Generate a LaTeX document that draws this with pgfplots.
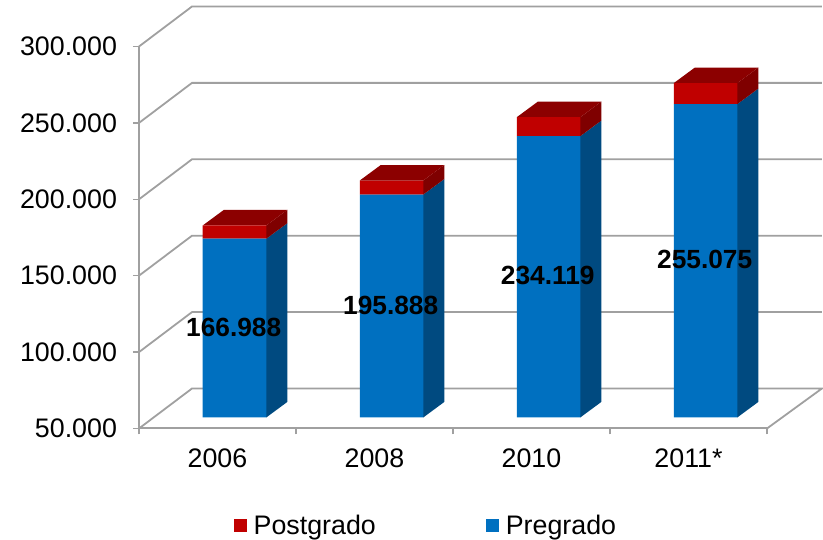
\documentclass[border=0pt]{standalone}
\usepackage{pgfplots}
\pgfplotsset{compat=1.18}
\usepackage{fontspec}
\setmainfont{Liberation Sans}
\definecolor{wallgrey}{HTML}{A0A0A0}
\definecolor{pre}{HTML}{0070C0}
\definecolor{preside}{HTML}{004A80}
\definecolor{post}{HTML}{C00000}
\definecolor{posttop}{HTML}{8C0000}
\definecolor{postside}{HTML}{7F0000}
\begin{document}
\begin{tikzpicture}
\useasboundingbox (-139pt,-111.5pt) rectangle (684pt,428.5pt);
% frame, ticks and back wall
\begin{axis}[
  at={(0pt,0pt)}, anchor=south west,
  scale only axis, width=628pt, height=382pt,
  xmin=-0.5, xmax=3.5, ymin=50000, ymax=300000,
  clip=false,
  axis x line*=bottom, axis y line*=left,
  axis line style={wallgrey, line width=2pt, -},
  xtick={0,1,2,3},
  xticklabels={2006,2008,2010,2011*},
  minor xtick={-0.5,0.5,1.5,2.5,3.5},
  ytick={50000,100000,150000,200000,250000,300000},
  major x tick style={draw=none},
  minor x tick style={wallgrey, line width=1.4pt},
  minor tick length=6pt,
  y tick style={wallgrey, line width=1.4pt},
  major tick length=6pt,
  tick align=outside,
  ticklabel style={font=\fontsize{26.8}{30}\selectfont, text=black},
  xticklabel style={yshift=-11pt},
  yticklabel style={xshift=-12.5pt},
  /pgf/number format/assume math mode=true,
  scaled y ticks=false,
  y tick label style={/pgf/number format/.cd, fixed, 1000 sep={.}},
]
\addplot[wallgrey, line width=1.8pt] coordinates {(-0.5,300000) (-0.1624,326180) (3.85,326180)};
\addplot[wallgrey, line width=1.8pt] coordinates {(-0.5,250000) (-0.1624,276180) (3.85,276180)};
\addplot[wallgrey, line width=1.8pt] coordinates {(-0.5,200000) (-0.1624,226180) (3.85,226180)};
\addplot[wallgrey, line width=1.8pt] coordinates {(-0.5,150000) (-0.1624,176180) (3.85,176180)};
\addplot[wallgrey, line width=1.8pt] coordinates {(-0.5,100000) (-0.1624,126180) (3.85,126180)};
\addplot[wallgrey, line width=1.8pt] coordinates {(-0.5,50000) (-0.1624,76180) (3.85,76180) (3.5,50000)};
\end{axis}
% side and top faces of the columns
\begin{axis}[
  at={(17pt,11pt)}, anchor=south west,
  scale only axis, width=628pt, height=382pt,
  xmin=-0.5, xmax=3.5, ymin=50000, ymax=300000,
  clip=false, hide axis,
]
% blue sides
\addplot[fill=preside,draw=none] coordinates {(0.2022,50000) (0.336,60145) (0.336,177133) (0.2022,166988)} --cycle;
\addplot[fill=preside,draw=none] coordinates {(1.2022,50000) (1.336,60145) (1.336,206033) (1.2022,195888)} --cycle;
\addplot[fill=preside,draw=none] coordinates {(2.2022,50000) (2.336,60145) (2.336,244264) (2.2022,234119)} --cycle;
\addplot[fill=preside,draw=none] coordinates {(3.2022,50000) (3.336,60145) (3.336,265220) (3.2022,255075)} --cycle;
% red sides
\addplot[fill=postside,draw=none] coordinates {(0.2022,166988) (0.336,177133) (0.336,185833) (0.2022,175688)} --cycle;
\addplot[fill=postside,draw=none] coordinates {(1.2022,195888) (1.336,206033) (1.336,215233) (1.2022,205088)} --cycle;
\addplot[fill=postside,draw=none] coordinates {(2.2022,234119) (2.336,244264) (2.336,256664) (2.2022,246519)} --cycle;
\addplot[fill=postside,draw=none] coordinates {(3.2022,255075) (3.336,265220) (3.336,278970) (3.2022,268825)} --cycle;
% red tops
\addplot[fill=posttop,draw=none] coordinates {(-0.2022,175688) (0.2022,175688) (0.336,185833) (-0.0684,185833)} --cycle;
\addplot[fill=posttop,draw=none] coordinates {(0.7978,205088) (1.2022,205088) (1.336,215233) (0.9316,215233)} --cycle;
\addplot[fill=posttop,draw=none] coordinates {(1.7978,246519) (2.2022,246519) (2.336,256664) (1.9316,256664)} --cycle;
\addplot[fill=posttop,draw=none] coordinates {(2.7978,268825) (3.2022,268825) (3.336,278970) (2.9316,278970)} --cycle;
\end{axis}
% front faces
\begin{axis}[
  at={(17pt,11pt)}, anchor=south west,
  scale only axis, width=628pt, height=382pt,
  xmin=-0.5, xmax=3.5, ymin=50000, ymax=300000,
  hide axis,
  ybar stacked, bar width=63.5pt,
  reverse legend,
  legend columns=2,
  legend style={draw=none, fill=none, at={(0.4298,-0.284)}, anchor=center,
    font=\fontsize{26.8}{30}\selectfont,
    /tikz/every even column/.append style={column sep=108pt}},
  legend image code/.code={\fill[#1,draw=none] (0pt,-6.5pt) rectangle (13pt,6.5pt);},
  legend cell align=left,
  /tikz/every odd column/.append style={column sep=5pt},
]
\addplot[fill=pre,draw=none] coordinates {(0,166988) (1,195888) (2,234119) (3,255075)};
\addplot[fill=post,draw=none] coordinates {(0,8700) (1,9200) (2,12400) (3,13750)};
\legend{Pregrado,Postgrado}
\end{axis}
% data labels on top of the columns
\begin{axis}[
  at={(17pt,11pt)}, anchor=south west,
  scale only axis, width=628pt, height=382pt,
  xmin=-0.5, xmax=3.5, ymin=50000, ymax=300000,
  clip=false, hide axis,
]
\node[font=\fontsize{26.3}{30}\selectfont\bfseries, text=black] at (axis cs:-0.005,109100) {166.988};
\node[font=\fontsize{26.3}{30}\selectfont\bfseries, text=black] at (axis cs:0.995,123600) {195.888};
\node[font=\fontsize{26.3}{30}\selectfont\bfseries, text=black] at (axis cs:1.995,142700) {234.119};
\node[font=\fontsize{26.3}{30}\selectfont\bfseries, text=black] at (axis cs:2.995,153200) {255.075};
\end{axis}
\end{tikzpicture}
\end{document}
